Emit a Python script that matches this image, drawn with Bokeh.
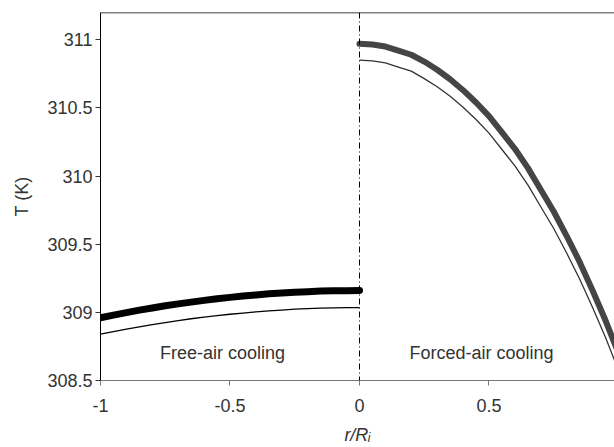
from bokeh.plotting import figure
from bokeh.models import Range1d, Label, Span, FixedTicker
from bokeh.embed import file_html
from bokeh.resources import INLINE

# Free-air cooling (left half, r/Ri from -1 to 0)
r_free = [-1.0, -0.95, -0.9, -0.85, -0.8, -0.75, -0.7, -0.65, -0.6, -0.55, -0.5,
          -0.45, -0.4, -0.35, -0.3, -0.25, -0.2, -0.15, -0.1, -0.05, 0.0]
T_free_thick = [308.960, 308.980, 308.998, 309.016, 309.032, 309.048, 309.062, 309.075,
                309.088, 309.100, 309.110, 309.120, 309.128, 309.136, 309.142, 309.148,
                309.152, 309.156, 309.158, 309.159, 309.160]
T_free_thin = [308.840, 308.859, 308.877, 308.894, 308.910, 308.925, 308.939, 308.953,
               308.965, 308.976, 308.986, 308.995, 309.004, 309.011, 309.017, 309.023,
               309.027, 309.031, 309.033, 309.034, 309.035]

# Forced-air cooling (right half, r/Ri from 0 to 1)
r_forced = [0.0, 0.05, 0.1, 0.15, 0.2, 0.25, 0.3, 0.35, 0.4, 0.45, 0.5,
            0.55, 0.6, 0.65, 0.7, 0.75, 0.8, 0.85, 0.9, 0.95, 1.0]
T_forced_thick = [310.970, 310.965, 310.950, 310.920, 310.890, 310.840, 310.780, 310.710,
                  310.630, 310.540, 310.440, 310.320, 310.200, 310.060, 309.900, 309.740,
                  309.560, 309.370, 309.160, 308.940, 308.700]
T_forced_thin = [310.850, 310.845, 310.830, 310.800, 310.770, 310.715, 310.655, 310.585,
                 310.505, 310.415, 310.315, 310.195, 310.075, 309.935, 309.775, 309.615,
                 309.435, 309.245, 309.035, 308.815, 308.575]

x_ticks = [-1, -0.5, 0, 0.5, 1]
y_ticks = [308.5, 309, 309.5, 310, 310.5, 311]
y_tick_labels = {308.5: "308.5", 309: "309", 309.5: "309.5", 310: "310", 310.5: "310.5", 311: "311"}
x_tick_labels = {-1: "-1", -0.5: "-0.5", 0: "0", 0.5: "0.5", 1: "1"}

X_MIN, X_MAX = -1.0, 0.9846
Y_MIN, Y_MAX = 308.5, 311.2

FONT = "Liberation Sans"
FS = "18px"

p = figure(width=614, height=447, output_backend="svg", toolbar_location=None,
           x_range=Range1d(X_MIN, X_MAX), y_range=Range1d(Y_MIN, Y_MAX),
           min_border_left=100, min_border_right=0, min_border_top=12, min_border_bottom=66)
p.background_fill_color = "white"
p.border_fill_color = "white"
p.outline_line_color = None
p.grid.visible = False

# axes
p.xaxis.ticker = FixedTicker(ticks=x_ticks)
p.yaxis.ticker = FixedTicker(ticks=y_ticks)
p.xaxis.major_label_overrides = x_tick_labels
p.yaxis.major_label_overrides = y_tick_labels
for ax in (p.xaxis, p.yaxis):
    ax.minor_tick_line_color = None
    ax.major_tick_in = 0
    ax.major_tick_out = 5
    ax.major_label_text_font = FONT
    ax.major_label_text_font_size = FS
    ax.major_label_text_color = "#333333"
    ax.axis_label_text_font = FONT
    ax.axis_label_text_font_size = FS
    ax.axis_label_text_color = "#333333"
p.yaxis.axis_line_color = "black"
p.yaxis.major_tick_line_color = "#333333"
p.yaxis.major_label_standoff = 3
p.yaxis.axis_label = "T (K)"
p.yaxis.axis_label_text_font_style = "normal"
p.yaxis.axis_label_standoff = 12
p.xaxis.axis_line_color = "#777777"
p.xaxis.major_tick_line_color = "#777777"
p.xaxis.major_label_standoff = 13
p.xaxis.axis_label = "r/R\u1d62"
p.xaxis.axis_label_text_font_style = "italic"
p.xaxis.axis_label_standoff = 10

# top frame line
p.add_layout(Span(location=Y_MAX, dimension="width", line_color="black", line_width=1.5))

# centre dash-dot line
p.add_layout(Span(location=0, dimension="height", line_color="black", line_width=1,
                  line_dash="6 3 1 3"))

# curves
p.line(r_free, T_free_thin, line_color="black", line_width=1.3)
p.line(r_free, T_free_thick, line_color="black", line_width=7, line_cap="round")
p.line(r_forced, T_forced_thin, line_color="#333333", line_width=1.3)
p.line(r_forced, T_forced_thick, line_color="#454545", line_width=6, line_cap="round")

# annotations
p.add_layout(Label(x=-0.529, y=308.705, text="Free-air cooling", text_font=FONT,
                   text_font_size=FS, text_color="#333333", text_align="center",
                   text_baseline="middle"))
p.add_layout(Label(x=0.471, y=308.705, text="Forced-air cooling", text_font=FONT,
                   text_font_size=FS, text_color="#333333", text_align="center",
                   text_baseline="middle"))

open("out.html", "w").write(file_html(p, INLINE))
